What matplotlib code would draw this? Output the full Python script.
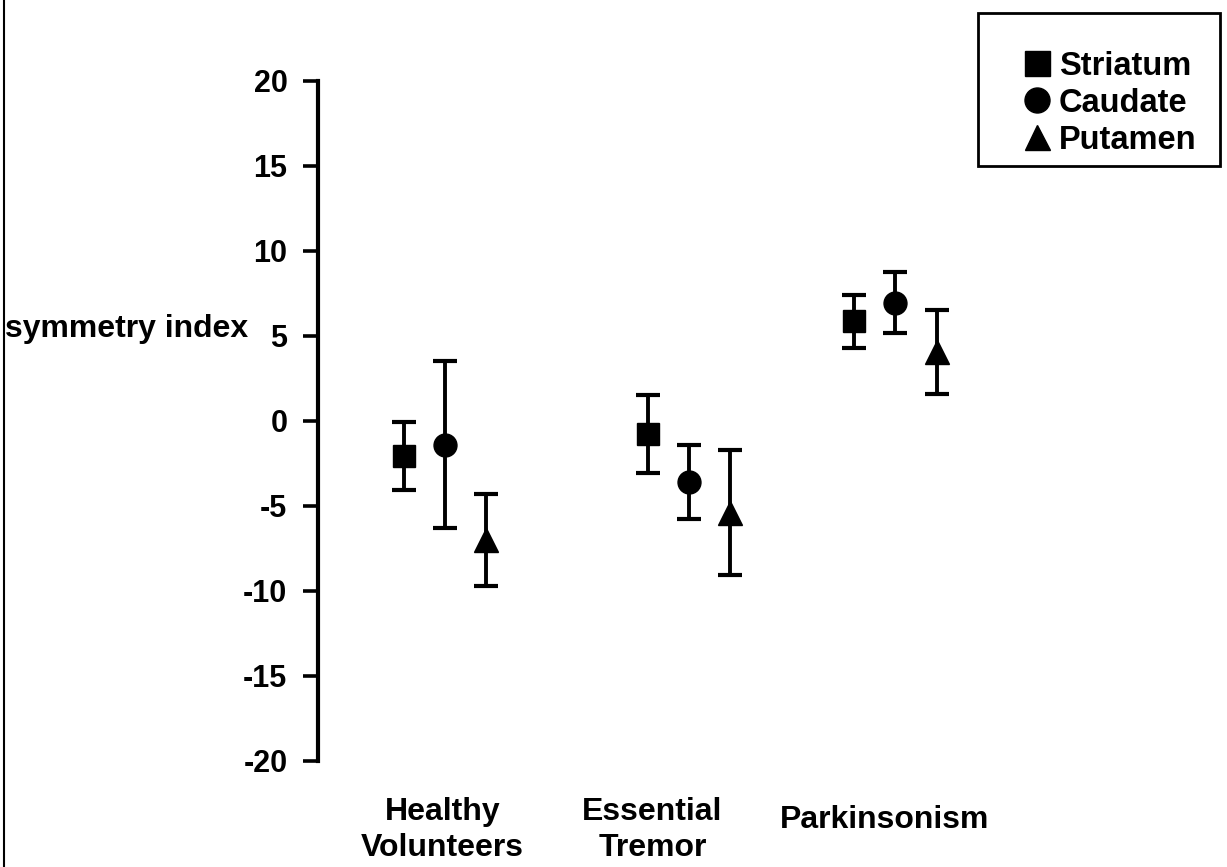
import matplotlib
matplotlib.use("Agg")
import matplotlib.pyplot as plt
from matplotlib.lines import Line2D
from matplotlib.patches import Rectangle
from matplotlib.transforms import blended_transform_factory
import numpy as np

plt.rcParams['font.family'] = ['Liberation Sans', 'DejaVu Sans']
plt.rcParams['font.weight'] = 'bold'

# ---- data ----
groups = ["Healthy\nVolunteers", "Essential\nTremor", "Parkinsonism"]
series = ["Striatum", "Caudate", "Putamen"]
striatum_mean = [-2.1, -0.8, 5.85]
striatum_err = [2.0, 2.3, 1.55]
caudate_mean = [-1.4, -3.6, 6.95]
caudate_err = [4.9, 2.2, 1.8]
putamen_mean = [-7.0, -5.4, 4.05]
putamen_err = [2.7, 3.65, 2.45]
yticks = [-20, -15, -10, -5, 0, 5, 10, 15, 20]

# ---- layout ----
group_pos = np.array([0.0, 1.0, 1.845])
offsets = [-0.17, 0.0, 0.17]
label_x = [-0.01, 0.85, 1.80]
label_top = [797, 797, 805]
markers = ['s', 'o', '^']
msizes = [15.5, 16.5, 17.5]
leg_msizes = [18, 18, 18]

W, H = 1227, 867
fig = plt.figure(figsize=(W / 100, H / 100), dpi=100)
left_px, right_px, top_px, bot_px = 318, 1000, 80.7, 760.7
ax = fig.add_axes([left_px / W, 1 - bot_px / H, (right_px - left_px) / W, (bot_px - top_px) / H])

px_per_unit = 244.0
ax.set_xlim((left_px - 445) / px_per_unit, (right_px - 445) / px_per_unit)
ax.set_ylim(-20, 20)

means = [striatum_mean, caudate_mean, putamen_mean]
errs = [striatum_err, caudate_err, putamen_err]
for i, name in enumerate(series):
    ax.errorbar(group_pos + offsets[i], means[i], yerr=errs[i], fmt=markers[i],
                color='black', ms=msizes[i], elinewidth=2.8, capsize=8.5, capthick=3,
                clip_on=False, zorder=3)

for s in ['top', 'right', 'bottom']:
    ax.spines[s].set_visible(False)
ax.spines['left'].set_linewidth(3.0)
ax.set_xticks([])
ax.set_yticks(yticks)
ax.set_yticklabels([str(v) for v in yticks], fontsize=22, fontweight='bold')
ax.tick_params(axis='y', length=11, width=2.6, pad=11, direction='out')

trans = blended_transform_factory(ax.transData, fig.transFigure)
for g, lx, lt in zip(groups, label_x, label_top):
    ax.text(lx, 1 - lt / H, g, transform=trans, ha='center', va='top',
            fontsize=23, fontweight='bold', linespacing=1.28)

fig.text(5 / W, 1 - 337 / H, "symmetry index", ha='left', va='baseline',
         fontsize=23, fontweight='bold')

# left border line
fig.add_artist(Line2D([3.5 / W, 3.5 / W], [0, 1], transform=fig.transFigure, color='black', lw=1.5))

# legend box (drawn manually to match the original's padding)
bx0, by0, bx1, by1 = 978, 13, 1220, 166
fig.add_artist(Rectangle((bx0 / W, 1 - by1 / H), (bx1 - bx0) / W, (by1 - by0) / H,
                         transform=fig.transFigure, fill=False, edgecolor='black', lw=2))
entry_y = [63, 100, 137]
for name, m, ms, ey in zip(series, markers, leg_msizes, entry_y):
    fig.add_artist(Line2D([1037 / W], [1 - ey / H], transform=fig.transFigure, marker=m,
                          ms=ms, color='black', ls='none'))
    fig.text(1059 / W, 1 - ey / H, name, ha='left', va='center_baseline',
             fontsize=23.5, fontweight='bold')

fig.savefig("out.png", dpi=100)
